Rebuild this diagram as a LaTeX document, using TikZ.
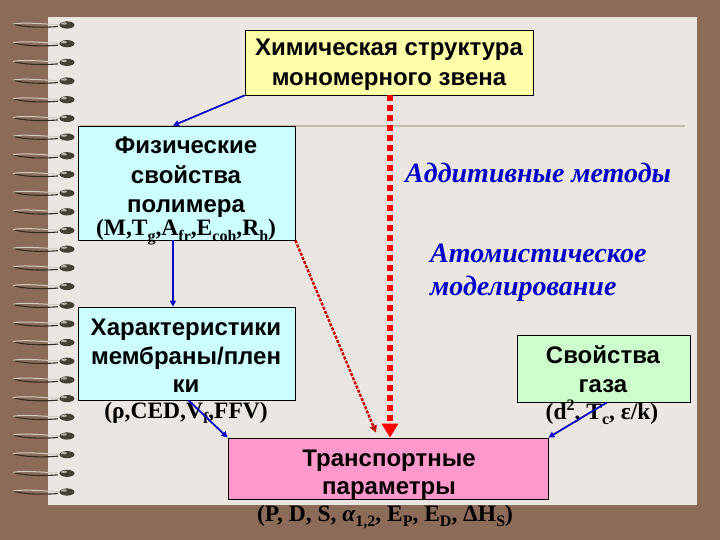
\documentclass[tikz,border=0pt]{standalone}
\usepackage{fontspec}
\setmainfont{Liberation Sans}
\newfontfamily\tnr{Liberation Serif}
\usetikzlibrary{arrows.meta,calc}
\definecolor{bgbrown}{RGB}{140,108,88}
\definecolor{paper}{RGB}{235,230,225}
\definecolor{rulec}{RGB}{200,188,165}
\definecolor{chemfill}{RGB}{255,255,170}
\definecolor{cyanfill}{RGB}{204,255,255}
\definecolor{gasfill}{RGB}{204,255,204}
\definecolor{transfill}{RGB}{255,153,204}
\definecolor{arrblue}{RGB}{10,10,200}
\definecolor{txtblue}{RGB}{0,0,204}
\definecolor{holec}{RGB}{70,64,50}
\definecolor{wirelight}{RGB}{210,204,194}
\definecolor{wiredark}{RGB}{50,42,36}
\definecolor{dred}{RGB}{200,0,0}
\newcommand\sbx[1]{\raisebox{-5.5pt}{\fontsize{16}{16}\selectfont #1}}
\newcommand\spx[1]{\raisebox{8.5pt}{\fontsize{16}{16}\selectfont #1}}
\tikzset{
  boxnode/.style={draw=black, line width=0.8pt, inner sep=0pt},
  sanslbl/.style={anchor=base, inner sep=0pt, font=\fontsize{24}{28}\selectfont\bfseries},
  formlbl/.style={anchor=base, inner sep=0pt, font=\fontsize{23.5}{28}\selectfont\tnr\bfseries},
  itallbl/.style={anchor=base west, inner sep=0pt, text=txtblue, font=\fontsize{28}{32}\selectfont\tnr\bfseries\itshape},
  bluearr/.style={draw=arrblue, line width=1.8pt, -{Triangle[width=6pt,length=6pt]}},
  bigred/.style={draw=red, line width=5.5pt, dash pattern=on 6pt off 4pt, -{Triangle[width=16pt,length=14pt]}},
  thinred/.style={draw=dred, line width=2.4pt, dash pattern=on 3pt off 1.5pt, -{Triangle[width=7pt,length=7pt]}},
}
\begin{document}
\begin{tikzpicture}[x=1pt,y=-1pt]
\useasboundingbox (0,0) rectangle (720,540);
\fill[bgbrown] (0,0) rectangle (720,540);
\fill[paper] (48,17) rectangle (697,505);
\draw[rulec, line width=1.5pt] (80,126) -- (685,126);
% spiral rings
\foreach \i in {0,...,25}{
  \pgfmathsetmacro{\yy}{25+\i*18.68}
  \draw[wiredark, line width=1.1pt] (58,\yy+1.5) .. controls (40,\yy+3) and (22,\yy+2) .. (13,\yy-1);
  \draw[wirelight, line width=1pt] (62,\yy) .. controls (44,\yy-1) and (24,\yy-3) .. (13,\yy-1);
  \fill[holec] (67,\yy) ellipse [x radius=7.5pt, y radius=3.6pt];
  \fill[white!60!holec] (64,\yy-1.5) ellipse [x radius=3pt, y radius=1.2pt];
}
% boxes
\node[boxnode, fill=chemfill, minimum width=288pt, minimum height=65pt] (chem) at (389,62.5) {};
\node[boxnode, fill=cyanfill, minimum width=217pt, minimum height=114pt] (phys) at (186.5,183) {};
\node[boxnode, fill=cyanfill, minimum width=217pt, minimum height=93pt] (char) at (186.5,353.5) {};
\node[boxnode, fill=gasfill, minimum width=173pt, minimum height=67pt] (gas) at (603.5,368.5) {};
\node[boxnode, fill=transfill, minimum width=320pt, minimum height=61pt] (trans) at (388,468.5) {};
% texts
\node[sanslbl] (chemA) at (389,56) {Химическая структура};
\node[sanslbl] (chemB) at (389,86) {мономерного звена};
\node[sanslbl] (physA) at (186,154) {Физические};
\node[sanslbl] (physB) at (186,184) {свойства};
\node[sanslbl] (physC) at (186,213) {полимера};
\node[formlbl] (physF) at (186,236) {(M,T\sbx{g},A\sbx{fr},E\sbx{coh},R\sbx{h})};
\node[sanslbl] (charA) at (186,335) {Характеристики};
\node[sanslbl] (charB) at (186,364) {мембраны/плен};
\node[sanslbl] (charC) at (186,392) {ки};
\node[formlbl] (charF) at (186,418) {(ρ,CED,V\sbx{f},FFV)};
\node[sanslbl] (gasA) at (603,363) {Свойства};
\node[sanslbl] (gasB) at (603,392) {газа};
\node[formlbl] (gasF) at (602,419) {(d\spx{2}, T\sbx{c}, ε/k)};
\node[sanslbl] (trA) at (389,466) {Транспортные};
\node[sanslbl] (trB) at (389,494) {параметры};
\node[formlbl] (trF) at (385,521) {(P, D, S, {\itshape α}\sbx{1,2}, E\sbx{P}, E\sbx{D}, ΔH\sbx{S})};
\node[itallbl] (addm) at (405,183) {Аддитивные методы};
\node[itallbl] (atomA) at (430,262) {Атомистическое};
\node[itallbl] (atomB) at (430,295) {моделирование};
% connectors
\draw[bluearr] (chem.south west) -- ($(phys.north)+(-13.5,0)$);
\draw[bluearr] ($(phys.south)+(-13.5,0)$) -- ($(char.north)+(-13.5,0)$);
\draw[bluearr] ($(char.south)+(2,0)$) -- (trans.north west);
\draw[bluearr] ($(gas.south)+(3.5,0)$) -- (trans.north east);
\draw[thinred] (phys.south east) -- ($(trans.north)+(-12,-5)$);
\draw[bigred] ($(chem.south)+(1,0)$) -- ($(trans.north)+(2,0)$);
\end{tikzpicture}
\end{document}
